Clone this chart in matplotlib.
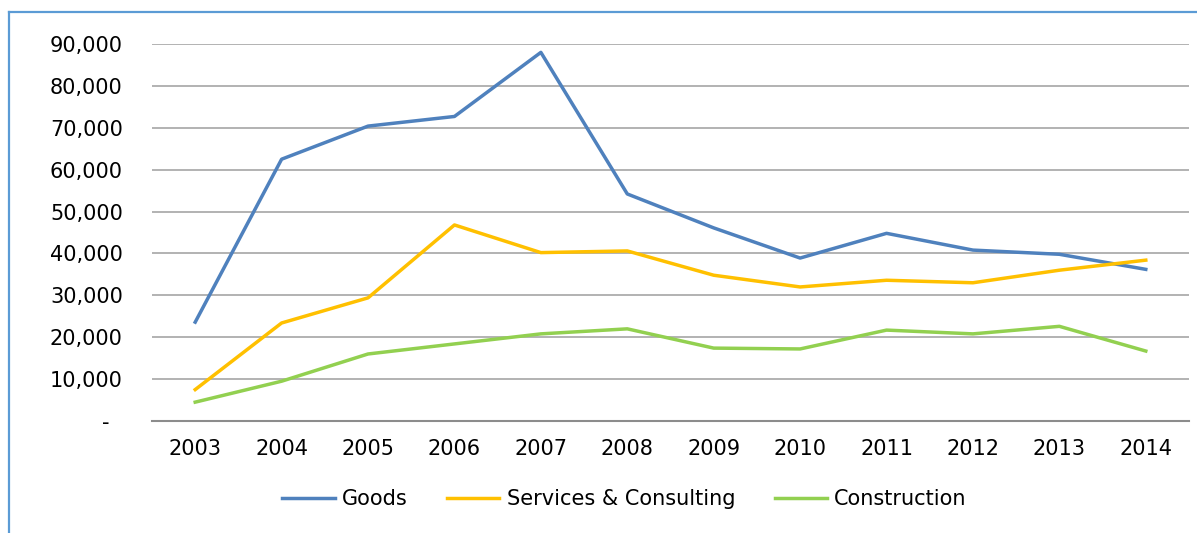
import matplotlib
matplotlib.use("Agg")
import matplotlib.pyplot as plt
from matplotlib.lines import Line2D

years = ["2003", "2004", "2005", "2006", "2007", "2008", "2009", "2010", "2011", "2012", "2013", "2014"]
goods = [23600, 62500, 70400, 72700, 88000, 54200, 46100, 38900, 44800, 40800, 39800, 36200]
services = [7500, 23400, 29400, 46800, 40200, 40600, 34800, 32000, 33600, 33000, 36000, 38400]
construction = [4500, 9500, 16000, 18400, 20800, 22000, 17400, 17200, 21700, 20800, 22600, 16700]
yticks = [0, 10000, 20000, 30000, 40000, 50000, 60000, 70000, 80000, 90000]
ytick_labels = ["-  ", "10,000", "20,000", "30,000", "40,000", "50,000", "60,000", "70,000", "80,000", "90,000"]

plt.rcParams['font.family'] = ['DejaVu Sans']
fig = plt.figure(figsize=(11.97, 5.33), dpi=100)
ax = fig.add_axes([152/1197, 1-421/533, (1189-152)/1197, (421-44)/533])

x = list(range(len(years)))
ax.plot(x, goods, color="#4F81BD", lw=2.5, label="Goods")
ax.plot(x, services, color="#FFC000", lw=2.5, label="Services & Consulting")
ax.plot(x, construction, color="#92D050", lw=2.5, label="Construction")

ax.set_xlim(-0.5, len(years)-0.5)
ax.set_ylim(0, 90000)
ax.set_yticks(yticks)
ax.set_yticklabels(ytick_labels)
ax.set_xticks(x)
ax.set_xticklabels(years)
ax.tick_params(axis='y', length=0, pad=21, labelsize=15)
ax.tick_params(axis='x', length=0, pad=13, labelsize=15)
ax.yaxis.grid(True, color="#A6A6A6", lw=1.2)
ax.set_axisbelow(True)
for s in ["top", "right", "left"]:
    ax.spines[s].set_visible(False)
ax.spines["bottom"].set_color("#8C8C8C")
ax.spines["bottom"].set_linewidth(1.5)

fig.legend(loc="center", bbox_to_anchor=(0.5217, 1-499/533), ncol=3, frameon=False,
           fontsize=15, handlelength=2.5, handletextpad=0.35, columnspacing=1.9)

# chart border (cropped on right and bottom)
fig.add_artist(Line2D([9/1197, 9/1197], [0, 1-12/533], color="#5B9BD5", lw=1.6, transform=fig.transFigure))
fig.add_artist(Line2D([9/1197, 1], [1-12/533, 1-12/533], color="#5B9BD5", lw=1.6, transform=fig.transFigure))

fig.savefig("out.png", dpi=100)
